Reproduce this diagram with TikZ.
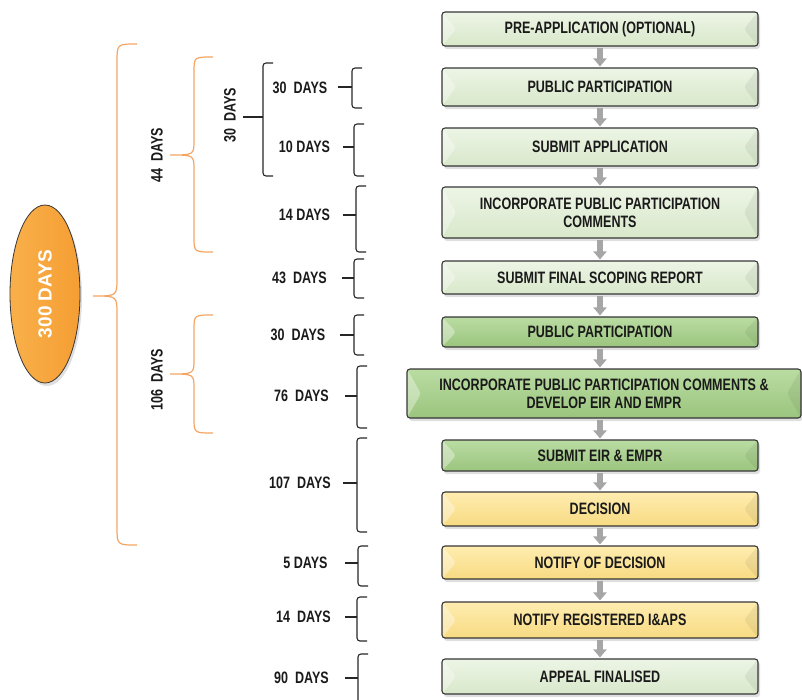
\documentclass[tikz,border=0pt]{standalone}
\usepackage{fontspec}
\setmainfont{Liberation Sans}
\newfontfamily\narrowfont[FakeStretch=0.76]{Liberation Sans}
\usetikzlibrary{shadows,arrows.meta,shapes.geometric}
\definecolor{lgA}{HTML}{EDF5E6}
\definecolor{lgB}{HTML}{D8E8CA}
\definecolor{dgA}{HTML}{BADCA2}
\definecolor{dgB}{HTML}{9BC57E}
\definecolor{ylA}{HTML}{FFEDB0}
\definecolor{ylB}{HTML}{F7DA82}
\definecolor{edgegray}{HTML}{363636}
\definecolor{arrgray}{HTML}{A6A6A6}
\definecolor{braceor}{HTML}{F5A462}
\definecolor{ellor}{HTML}{F59E33}
\definecolor{ellorL}{HTML}{F9B04A}
\definecolor{txt}{HTML}{1A1A1A}
\tikzset{
  stagebox/.style={draw=edgegray, line width=1.1pt, rounded corners=3pt,
    minimum width=316pt, inner sep=2pt, align=center, text=txt,
    font=\narrowfont\bfseries\fontsize{16.5}{18}\selectfont,
    drop shadow={shadow xshift=2pt, shadow yshift=-3pt, opacity=0.25},
    path picture={
      \fill[white,opacity=0.35] (path picture bounding box.north west) -- ([xshift=14pt]path picture bounding box.west) -- (path picture bounding box.south west) -- cycle;
      \fill[black,opacity=0.06] (path picture bounding box.north east) -- ([xshift=-14pt]path picture bounding box.east) -- (path picture bounding box.south east) -- cycle;
    }},
  lightbox/.style={stagebox, top color=lgA, bottom color=lgB},
  darkbox/.style={stagebox, top color=dgA, bottom color=dgB},
  yellowbox/.style={stagebox, top color=ylA, bottom color=ylB},
  flowarrow/.style={draw=arrgray, line width=6pt, -{Triangle[width=13pt,length=8pt]}},
  daylabel/.style={font=\narrowfont\bfseries\fontsize{16.5}{18}\selectfont, inner sep=0pt, text=txt},
  blackbracket/.style={draw=black!85, line width=1.1pt, rounded corners=3pt},
  orangebrace/.style={draw=braceor, line width=1.2pt},
}
\newcommand{\bbr}[5]{% x, top, bottom, mid, tickstart
  \draw[blackbracket] (#1+10,#2) -- (#1,#2) -- (#1,#3) -- (#1+10,#3);
  \draw[blackbracket] (#5,#4) -- (#1,#4);
}
\newcommand{\obr}[7]{% x, top, bottom, mid, tip, point, r
  \draw[orangebrace] (#5,#2) .. controls (#1,#2) .. (#1,#2+#7) -- (#1,#4-#7)
    .. controls (#1,#4) .. (#6,#4) .. controls (#1,#4) .. (#1,#4+#7)
    -- (#1,#3-#7) .. controls (#1,#3) .. (#5,#3);
}
\begin{document}
\begin{tikzpicture}[x=1pt,y=-1pt]
\useasboundingbox (0,0) rectangle (802,699);
% boxes
\node[lightbox, minimum height=34pt] (b1) at (600,29) {PRE-APPLICATION (OPTIONAL)};
\node[lightbox, minimum height=38pt] (b2) at (600,87) {PUBLIC PARTICIPATION};
\node[lightbox, minimum height=38pt] (b3) at (600,147) {SUBMIT APPLICATION};
\node[lightbox, minimum height=51pt] (b4) at (600,212.5) {INCORPORATE PUBLIC PARTICIPATION\\COMMENTS};
\node[lightbox, minimum height=33pt] (b5) at (600,277.5) {SUBMIT FINAL SCOPING REPORT};
\node[darkbox, minimum height=30pt] (b6) at (600,332) {PUBLIC PARTICIPATION};
\node[darkbox, minimum height=49pt, minimum width=394pt] (b7) at (604,393.5) {INCORPORATE PUBLIC PARTICIPATION COMMENTS \&\\DEVELOP EIR AND EMPR};
\node[darkbox, minimum height=31pt] (b8) at (600,455.5) {SUBMIT EIR \& EMPR};
\node[yellowbox, minimum height=34pt] (b9) at (600,509) {DECISION};
\node[yellowbox, minimum height=33pt] (b10) at (600,562.5) {NOTIFY OF DECISION};
\node[yellowbox, minimum height=36pt] (b11) at (600,620) {NOTIFY REGISTERED I\&APS};
\node[lightbox, minimum height=35pt] (b12) at (600,676.5) {APPEAL FINALISED};
% arrows
\draw[flowarrow] ([yshift=-1pt]b1.south) -- ([yshift=1pt]b1.south |- b2.north);
\draw[flowarrow] ([yshift=-1pt]b2.south) -- ([yshift=1pt]b2.south |- b3.north);
\draw[flowarrow] ([yshift=-1pt]b3.south) -- ([yshift=1pt]b3.south |- b4.north);
\draw[flowarrow] ([yshift=-1pt]b4.south) -- ([yshift=1pt]b4.south |- b5.north);
\draw[flowarrow] ([yshift=-1pt]b5.south) -- ([yshift=1pt]b5.south |- b6.north);
\draw[flowarrow] ([yshift=-1pt]b6.south) -- ([yshift=1pt]b6.south |- b7.north);
\draw[flowarrow] ([yshift=-1pt]b8.north |- b7.south) -- ([yshift=1pt]b8.north);
\draw[flowarrow] ([yshift=-1pt]b8.south) -- ([yshift=1pt]b8.south |- b9.north);
\draw[flowarrow] ([yshift=-1pt]b9.south) -- ([yshift=1pt]b9.south |- b10.north);
\draw[flowarrow] ([yshift=-1pt]b10.south) -- ([yshift=1pt]b10.south |- b11.north);
\draw[flowarrow] ([yshift=-1pt]b11.south) -- ([yshift=1pt]b11.south |- b12.north);
% day labels
\node[daylabel] (l1) at (300,88) {30\ \ DAYS};
\node[daylabel] (l2) at (304.5,147) {10 DAYS};
\node[daylabel] (l3) at (304.5,215) {14 DAYS};
\node[daylabel] (l4) at (299.5,278) {43\ \ DAYS};
\node[daylabel] (l5) at (298,335) {30\ \ DAYS};
\node[daylabel] (l6) at (301.5,396) {76\ \ DAYS};
\node[daylabel] (l7) at (300,483) {107\ \ DAYS};
\node[daylabel] (l8) at (305.5,563) {5 DAYS};
\node[daylabel] (l9) at (303.5,617) {14\ \ DAYS};
\node[daylabel] (l10) at (301.5,678) {90\ \ DAYS};
\node[daylabel, rotate=90] (r30) at (230,115) {30\ \ DAYS};
\node[daylabel, rotate=90] (r44) at (157,155) {44\ \ DAYS};
\node[daylabel, rotate=90] (r106) at (157,380) {106\ \ DAYS};
% black brackets
\bbr{263}{63}{176}{117}{243}
\bbr{352}{68}{108}{87}{338}
\bbr{354}{124}{176}{147}{343}
\bbr{356}{186}{252}{215}{343}
\bbr{354}{259}{298}{278}{342}
\bbr{354}{315}{355}{335}{340}
\bbr{357}{366}{428}{396}{345}
\bbr{357}{438}{532}{483}{343}
\bbr{358}{546}{586}{563}{345}
\bbr{357}{597}{641}{617}{345}
\bbr{358}{654}{715}{678}{345}
% orange braces
\obr{117}{44}{545}{296}{137}{93}{18}
\obr{194}{57}{252}{155}{213}{170}{15}
\obr{194}{315}{433}{374}{213}{170}{15}
% ellipse
\node[ellipse, draw=edgegray, line width=0.8pt, left color=ellorL, right color=ellor,
  minimum width=70pt, minimum height=178pt, inner sep=0pt,
  drop shadow={shadow xshift=2pt, shadow yshift=-3pt, opacity=0.25}] (ell) at (45,294) {};
\node[rotate=90, text=white, font=\bfseries\fontsize{19}{20}\selectfont] (elltext) at (ell.center) {300 DAYS};
\end{tikzpicture}
\end{document}
